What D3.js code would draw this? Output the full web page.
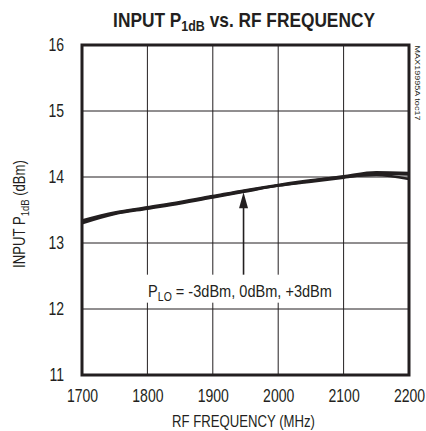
<!DOCTYPE html>
<html><head><meta charset="utf-8">
<script src="https://cdn.jsdelivr.net/npm/d3@7"></script>
<style>
body{margin:0;background:#fff;}
svg text{font-family:"Liberation Sans",Arial,sans-serif;fill:#231f20;}
</style></head><body>
<svg id="c" width="426" height="431"></svg>
<script>
const freqs = [1700,1750,1800,1850,1900,1950,2000,2050,2100,2150,2200];
const pinM3 = [13.30,13.44,13.52,13.60,13.69,13.78,13.87,13.93,13.99,14.05,14.04];
const pin0  = [13.32,13.45,13.53,13.61,13.70,13.79,13.87,13.94,14.01,14.07,14.06];
const pinP3 = [13.34,13.46,13.54,13.62,13.71,13.80,13.88,13.95,14.00,14.03,13.97];
const xTicks = [1700,1800,1900,2000,2100,2200];
const yTicks = [11,12,13,14,15,16];
const arrowFreq = 1947, arrowFrom = 12.52, arrowTo = 13.77;

const svg = d3.select("#c");
const L=82,R=409,T=45,B=375;
const x = d3.scaleLinear().domain([1700,2200]).range([L,R]);
const y = d3.scaleLinear().domain([11,16]).range([B,T]);
const SX = 0.78;

// grid
svg.append("g").selectAll("line").data(xTicks.slice(1,-1)).join("line")
  .attr("x1",d=>x(d)).attr("x2",d=>x(d)).attr("y1",T).attr("y2",B)
  .attr("stroke","#231f20").attr("stroke-width",1);
svg.append("g").selectAll("line").data(yTicks.slice(1,-1)).join("line")
  .attr("y1",d=>y(d)).attr("y2",d=>y(d)).attr("x1",L).attr("x2",R)
  .attr("stroke","#231f20").attr("stroke-width",1);

// axes labels via d3 axes
const xa = svg.append("g").attr("transform",`translate(0,${B})`)
  .call(d3.axisBottom(x).tickValues(xTicks).tickSize(0).tickPadding(14).tickFormat(d3.format("d")));
xa.select(".domain").remove();
xa.selectAll("text").attr("font-size",18).attr("transform",`scale(${SX},1)`).style("fill","#231f20");
const ya = svg.append("g").attr("transform",`translate(${L},0)`)
  .call(d3.axisLeft(y).tickValues(yTicks).tickSize(0).tickFormat(d3.format("d")));
ya.select(".domain").remove();
ya.selectAll("text").attr("font-size",18).attr("x",-18/SX).attr("transform",`scale(${SX},1)`).style("fill","#231f20");

// helper: fit a centered text group to a target width
function fitted(cx, cy, rot, size, targetW, parts, weight){
  const g = svg.append("g");
  const t = g.append("text").attr("text-anchor","middle").attr("font-size",size);
  if(weight) t.attr("font-weight",weight);
  parts.forEach(p=>{
    const ts = t.append("tspan").text(p.s);
    if(p.sub){ ts.attr("font-size",size*0.72).attr("dy",size*0.22); }
    else if(p.back){ ts.attr("dy",-size*0.22); }
  });
  const w = t.node().getComputedTextLength();
  g.attr("transform",`translate(${cx},${cy}) rotate(${rot}) scale(${targetW/w},1)`);
  return g;
}

// data lines
const line = d3.line().x((d,i)=>x(freqs[i])).y(d=>y(d)).curve(d3.curveMonotoneX);
[pinM3,pin0,pinP3].forEach(s=>{
  svg.append("path").attr("d",line(s)).attr("fill","none").attr("stroke","#231f20").attr("stroke-width",2.6);
});

// annotation background + label
svg.append("rect").attr("x",144).attr("y",y(arrowFrom)).attr("width",192).attr("height",28).attr("fill","#fff");
fitted(240, 297, 0, 17, 184, [{s:"P"},{s:"LO",sub:true},{s:" = -3dBm, 0dBm, +3dBm",back:true}]);

// arrow
const ax=x(arrowFreq), ay=y(arrowTo);
svg.append("line").attr("x1",ax).attr("x2",ax).attr("y1",y(arrowFrom)).attr("y2",ay+14)
  .attr("stroke","#231f20").attr("stroke-width",1.6);
svg.append("path").attr("d",`M${ax},${ay} L${ax-4.5},${ay+16} L${ax+4.5},${ay+16} Z`).attr("fill","#231f20");

// border
svg.append("rect").attr("x",L).attr("y",T).attr("width",R-L).attr("height",B-T)
  .attr("fill","none").attr("stroke","#231f20").attr("stroke-width",3);

// title
fitted(244, 27, 0, 20, 262, [{s:"INPUT P"},{s:"1dB",sub:true},{s:" vs. RF FREQUENCY",back:true}], "bold");

// axis titles
fitted(243.5, 427, 0, 16, 143, [{s:"RF FREQUENCY (MHz)"}]);
fitted(25, 214, -90, 16, 108, [{s:"INPUT P"},{s:"1dB",sub:true},{s:" (dBm)",back:true}]);

// side code
fitted(415, 83, 90, 8, 75, [{s:"MAX19995A toc17"}]);
</script></body></html>
